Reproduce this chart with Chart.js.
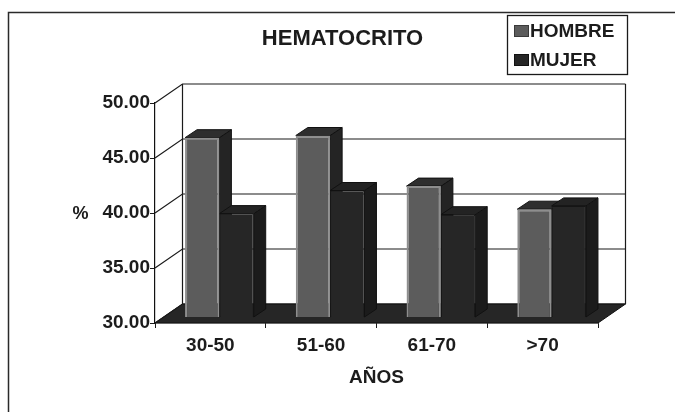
<!DOCTYPE html>
<html>
<head>
<meta charset="utf-8">
<script src="https://cdn.jsdelivr.net/npm/chart.js@4/dist/chart.umd.min.js"></script>
<style>
  html, body { margin: 0; padding: 0; background: #ffffff; }
  #wrap { width: 675px; height: 412px; }
</style>
</head>
<body>
<div id="wrap"><canvas id="c" width="675" height="412"></canvas></div>
<script>
// Hematocrito (%) por grupo de edad
const categories = ['30-50', '51-60', '61-70', '>70'];
const hombre = [46.3, 46.5, 41.9, 39.8];
const mujer = [39.4, 41.5, 39.3, 40.1];
const yTicks = [30, 35, 40, 45, 50];
const chartTitle = 'HEMATOCRITO';

const FONT = "'Liberation Sans', Arial, sans-serif";
const INK = '#1c1c1c';

// Depth of the 3D box (back wall offset) and of the bars
const WALL = { dx: 27.5, dy: -19 };
const BAR_FRONT = { dx: 9, dy: -6 };
const BAR_DEPTH = { dx: 12, dy: -8 };

function poly(ctx, pts, fill, stroke) {
  ctx.beginPath();
  ctx.moveTo(pts[0][0], pts[0][1]);
  for (let i = 1; i < pts.length; i++) ctx.lineTo(pts[i][0], pts[i][1]);
  ctx.closePath();
  if (fill) { ctx.fillStyle = fill; ctx.fill(); }
  if (stroke) { ctx.strokeStyle = stroke; ctx.lineWidth = 1; ctx.stroke(); }
}

const frame3d = {
  id: 'frame3d',
  beforeDraw(chart) {
    const ctx = chart.ctx;
    ctx.save();
    ctx.fillStyle = '#ffffff';
    ctx.fillRect(0, 0, chart.width, chart.height);
    // outer frame (top and left edges)
    ctx.strokeStyle = '#2a2a2a';
    ctx.lineWidth = 1.5;
    ctx.beginPath();
    ctx.moveTo(8.5, chart.height);
    ctx.lineTo(8.5, 12.5);
    ctx.lineTo(chart.width, 12.5);
    ctx.stroke();
    ctx.restore();
  },
  beforeDatasetsDraw(chart) {
    const ctx = chart.ctx;
    const { left, right, top, bottom } = chart.chartArea;
    const ys = chart.scales.y;
    const { dx, dy } = WALL;
    ctx.save();
    // floor
    poly(ctx, [[left, bottom], [right, bottom], [right + dx, bottom + dy], [left + dx, bottom + dy]], '#262626', '#111');
    // back wall gridlines and side wall diagonals
    ctx.strokeStyle = '#1a1a1a';
    ctx.lineWidth = 1.2;
    yTicks.forEach(v => {
      const py = ys.getPixelForValue(v);
      ctx.beginPath();
      ctx.moveTo(left, py);
      ctx.lineTo(left + dx, py + dy);
      ctx.lineTo(right + dx, py + dy);
      ctx.stroke();
    });
    // back wall verticals
    ctx.beginPath();
    ctx.moveTo(left + dx, top + dy);
    ctx.lineTo(left + dx, bottom + dy);
    ctx.moveTo(right + dx, top + dy);
    ctx.lineTo(right + dx, bottom + dy);
    ctx.stroke();

    // side and top faces of every bar, category by category
    const B = ys.getPixelForValue(ys.min);
    const metas = chart.data.datasets.map((d, i) => chart.getDatasetMeta(i));
    const f1 = BAR_FRONT, f2 = { dx: BAR_FRONT.dx + BAR_DEPTH.dx, dy: BAR_FRONT.dy + BAR_DEPTH.dy };
    for (let j = 0; j < categories.length; j++) {
      metas.forEach((meta, i) => {
        const bar = meta.data[j];
        const p = bar.getProps(['x', 'y', 'width'], true);
        const L = p.x - p.width / 2, R = p.x + p.width / 2, T = p.y;
        const side = i === 0 ? '#242424' : '#1b1b1b';
        const topc = i === 0 ? '#2e2e2e' : '#232323';
        poly(ctx, [[R + f1.dx, T + f1.dy], [R + f2.dx, T + f2.dy], [R + f2.dx, B + f2.dy], [R + f1.dx, B + f1.dy]], side, '#111');
        poly(ctx, [[L + f1.dx, T + f1.dy], [L + f2.dx, T + f2.dy], [R + f2.dx, T + f2.dy], [R + f1.dx, T + f1.dy]], topc, '#111');
      });
    }
    ctx.restore();
    // front faces are drawn by the bar elements, pushed back into the box
    ctx.save();
    ctx.translate(BAR_FRONT.dx, BAR_FRONT.dy);
  },
  afterDatasetsDraw(chart) {
    chart.ctx.restore();
  },
  afterDraw(chart) {
    const ctx = chart.ctx;
    const ys = chart.scales.y;
    ctx.save();
    // chart title
    ctx.fillStyle = INK;
    ctx.font = 'bold 22px ' + FONT;
    ctx.textAlign = 'center';
    ctx.textBaseline = 'middle';
    ctx.fillText(chartTitle, 342.5, 39);

    // y axis caption, horizontal
    ctx.font = 'bold 18px ' + FONT;
    ctx.fillText('%', 80.5, ys.getPixelForValue(40) + 1);

    // legend box
    const bx = 507.5, by = 15.5, bw = 120, bh = 59;
    ctx.fillStyle = '#ffffff';
    ctx.fillRect(bx, by, bw, bh);
    ctx.strokeStyle = '#1a1a1a';
    ctx.lineWidth = 1.3;
    ctx.strokeRect(bx, by, bw, bh);
    const rows = [31, 60];
    chart.data.datasets.forEach((ds, i) => {
      const cy = rows[i];
      ctx.fillStyle = ds.backgroundColor;
      ctx.fillRect(514, cy - 6, 15, 12);
      ctx.strokeStyle = i === 0 ? '#3a3a3a' : '#111';
      ctx.lineWidth = 1;
      ctx.strokeRect(514.5, cy - 5.5, 14, 11);
      ctx.fillStyle = INK;
      ctx.font = 'bold 19px ' + FONT;
      ctx.textAlign = 'left';
      ctx.textBaseline = 'middle';
      ctx.fillText(ds.label, 530, cy + 1);
    });
    ctx.restore();
  }
};

new Chart(document.getElementById('c'), {
  type: 'bar',
  data: {
    labels: categories,
    datasets: [
      {
        label: 'HOMBRE',
        data: hombre,
        backgroundColor: '#5c5c5c',
        borderColor: '#8e8e8e',
        borderWidth: 2,
        categoryPercentage: 0.62,
        barPercentage: 1.0
      },
      {
        label: 'MUJER',
        data: mujer,
        backgroundColor: '#262626',
        borderColor: '#151515',
        borderWidth: 1,
        categoryPercentage: 0.62,
        barPercentage: 1.0
      }
    ]
  },
  options: {
    responsive: false,
    animation: false,
    devicePixelRatio: 1,
    layout: { padding: { left: 0, right: 77, top: 103, bottom: 0 } },
    plugins: {
      legend: { display: false },
      tooltip: { enabled: false },
      title: { display: false }
    },
    scales: {
      x: {
        grid: { drawOnChartArea: false, drawTicks: true, tickLength: 5, color: '#1a1a1a', offset: true },
        border: { display: true, color: '#111', width: 1.2 },
        ticks: { color: INK, padding: 6, font: { family: FONT, size: 19, weight: 'bold' } },
        title: {
          display: true,
          text: 'AÑOS',
          color: INK,
          font: { family: FONT, size: 19, weight: 'bold' },
          padding: { top: 0, bottom: 23 }
        },
        afterFit(scale) { scale.height = 89; }
      },
      y: {
        min: 30,
        max: 50,
        afterBuildTicks(scale) { scale.ticks = yTicks.map(v => ({ value: v })); },
        grid: { drawOnChartArea: false, drawTicks: true, tickLength: 5, color: '#1a1a1a' },
        border: { display: true, color: '#111', width: 1.2 },
        ticks: {
          color: INK,
          padding: 0,
          font: { family: FONT, size: 19, weight: 'bold' },
          callback: v => Number(v).toFixed(2)
        },
        afterFit(scale) { scale.width = 155; }
      }
    }
  },
  plugins: [frame3d]
});
</script>
</body>
</html>
